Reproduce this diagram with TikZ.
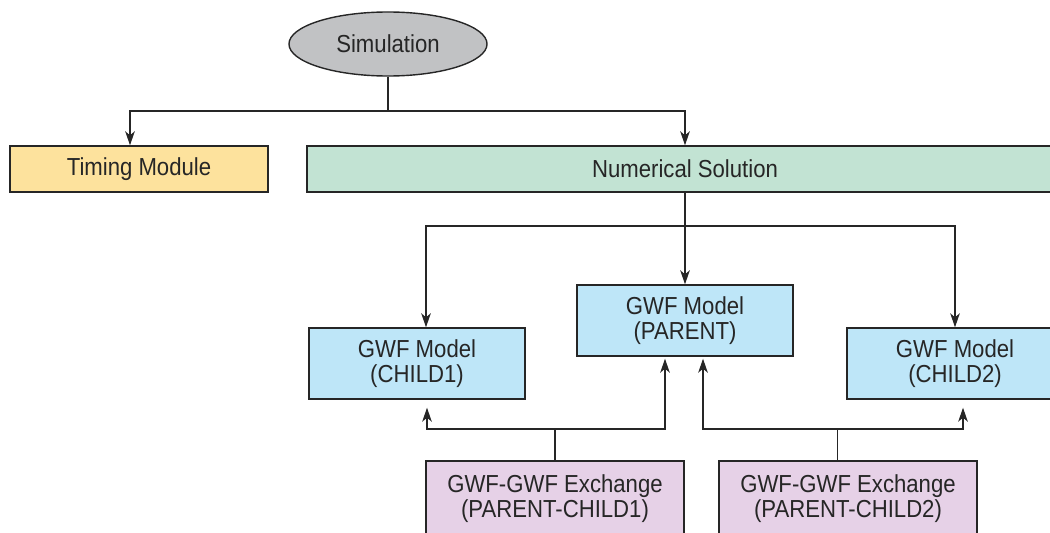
\documentclass[tikz,border=0pt]{standalone}
\usepackage{fontspec}
\setmainfont{Liberation Sans}[FakeStretch=0.9]
\usepackage{tikz}
\usetikzlibrary{arrows.meta,positioning,shapes.geometric}
\usepackage{xcolor}
\definecolor{SimGray}{HTML}{C1C2C4}
\definecolor{TimeGold}{HTML}{FDE29D}
\definecolor{SolGreen}{HTML}{C2E3D3}
\definecolor{ModelBlue}{HTML}{BEE6F8}
\definecolor{ExchPink}{HTML}{E6D1E7}
\definecolor{LineDark}{HTML}{262626}

\begin{document}
\begin{tikzpicture}[
    x=0.025cm,y=-0.025cm,
    every node/.style={font=\fontsize{17.5}{17.8}\selectfont,text=LineDark},
    base/.style={draw=LineDark,line width=1pt,align=center,inner sep=0pt},
    ellip/.style={base,ellipse,fill=SimGray,minimum width=4.95cm,minimum height=1.6cm},
    timebox/.style={base,fill=TimeGold,minimum width=6.45cm,minimum height=1.15cm},
    solbox/.style={base,fill=SolGreen,minimum width=18.9cm,minimum height=1.15cm},
    modelbox/.style={base,fill=ModelBlue,minimum width=5.4cm,minimum height=1.775cm},
    exbox/.style={base,fill=ExchPink,minimum width=6.45cm,minimum height=1.9cm},
    link/.style={draw=LineDark,line width=1pt},
    arr/.style={link,-{Stealth[length=3.5mm,width=2.4mm,inset=1mm]}}
  ]
    \useasboundingbox (0,0) rectangle (1050,532);
    \node[ellip] (sim) at (388,44) {Simulation};
    \node[timebox] (timing) at (139,169) {Timing Module};
    \node[solbox] (numsol) at (685,169) {Numerical Solution};
    \node[modelbox] (parent) at (685,320.5) {GWF Model\\(PARENT)};
    \node[modelbox] (child1) at (417,363.5) {GWF Model\\(CHILD1)};
    \node[modelbox] (child2) at (955,363.5) {GWF Model\\(CHILD2)};
    \node[exbox] (exch1) at (555,499) {GWF-GWF Exchange\\(PARENT-CHILD1)};
    \node[exbox] (exch2) at (848,499) {GWF-GWF Exchange\\(PARENT-CHILD2)};
    \coordinate (simfork) at (388,111);
    \coordinate (solfork) at (685,226);
    \coordinate (exfork1) at (555,429);
    \coordinate (exfork2) at (837.6,429);
    \draw[link] (sim)--(simfork);
    \draw[arr] (simfork)-|([xshift=-0.225cm]timing.north);
    \draw[arr] (simfork)-|(numsol.north);
    \draw[arr] (numsol)--(parent);
    \draw[arr] (solfork)-|([xshift=0.225cm]child1.north);
    \draw[arr] (solfork)-|(child2.north);
    \draw[link] (exch1.north)--(exfork1);
    \draw[arr,shorten >=0.2cm] (exfork1)-|([xshift=0.25cm]child1.south);
    \draw[arr,shorten >=0.05cm] (exfork1)-|([xshift=-0.5cm]parent.south);
    \draw[link] (exch2.north -| exfork2)--(exfork2);
    \draw[arr,shorten >=0.05cm] (exfork2)-|([xshift=0.45cm]parent.south);
    \draw[arr,shorten >=0.2cm] (exfork2)-|([xshift=0.2cm]child2.south);
  \end{tikzpicture}
\end{document}
